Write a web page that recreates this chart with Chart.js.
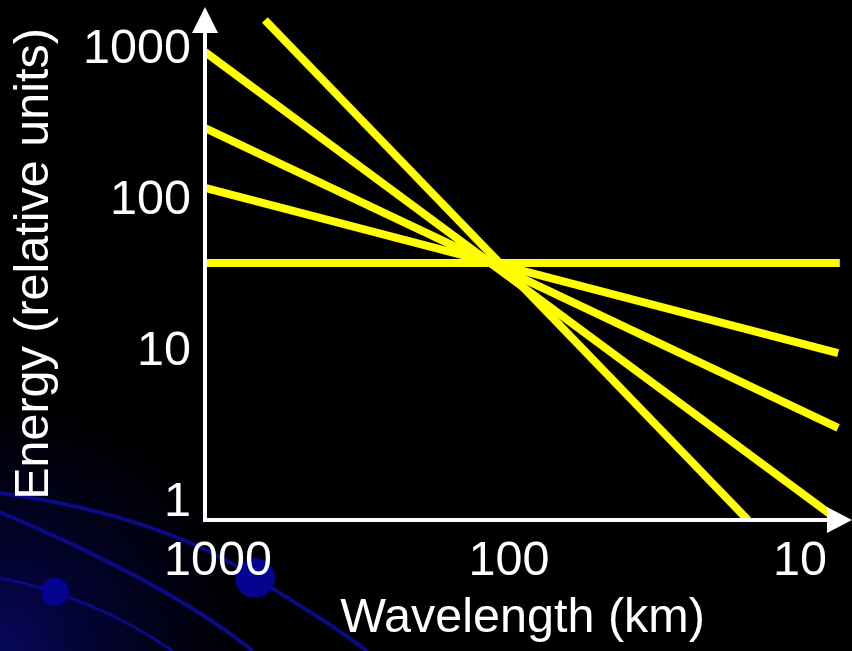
<!DOCTYPE html>
<html>
<head>
<meta charset="utf-8">
<script src="https://cdn.jsdelivr.net/npm/chart.js@4.4.1/dist/chart.umd.min.js"></script>
<style>
  html, body { margin: 0; padding: 0; background: #000; }
  canvas { display: block; }
</style>
</head>
<body>
<canvas id="energyChart" width="852" height="651"></canvas>
<script>
// axis ticks and ranges (wavelength axis runs backwards, 1000 km on the left)
const xTicks = [1000, 100, 10];
const yTicks = [1, 10, 100, 1000];
const xRange = [7.29, 1108];
const yRange = [0.772, 1897];

// each straight line: start and end points
const startKm = [690, 1108, 1108, 1108, 1108];
const endKm = [15.1, 7.4, 7.4, 7.4, 7.3];
const startEnergy = [1581, 970, 304, 122, 38.8];
const endEnergy = [0.772, 0.772, 3.14, 9.85, 38.8];

const FONT = "'Liberation Sans', Arial, sans-serif";
const FONT_SIZE = 48.5;

// dark slide background with the blue swirl in the corner
const slideBackground = {
  id: "slideBackground",
  beforeDraw(chart) {
    const c = chart.ctx;
    c.save();
    c.fillStyle = "#000";
    c.fillRect(0, 0, chart.width, chart.height);

    const g = c.createRadialGradient(0, 651, 10, 0, 651, 260);
    g.addColorStop(0, "rgba(10,10,120,0.75)");
    g.addColorStop(1, "rgba(0,0,60,0)");
    c.fillStyle = g;
    c.fillRect(0, 380, 300, 271);

    c.strokeStyle = "#0a0a84";
    c.lineWidth = 4;
    c.beginPath();
    c.moveTo(0, 493);
    c.bezierCurveTo(110, 508, 200, 540, 255, 578);
    c.bezierCurveTo(300, 605, 340, 630, 367, 651);
    c.stroke();

    c.beginPath();
    c.moveTo(0, 512);
    c.bezierCurveTo(90, 550, 190, 600, 253, 651);
    c.stroke();

    c.lineWidth = 3;
    c.beginPath();
    c.moveTo(0, 578);
    c.bezierCurveTo(60, 590, 120, 615, 173, 651);
    c.stroke();

    c.fillStyle = "#03038f";
    c.beginPath();
    c.arc(255, 578, 20, 0, Math.PI * 2);
    c.fill();
    c.beginPath();
    c.arc(55, 592, 14, 0, Math.PI * 2);
    c.fill();
    c.restore();
  },
};

// white axes with arrow heads
const arrowAxes = {
  id: "arrowAxes",
  afterDatasetsDraw(chart) {
    const { left, bottom } = chart.chartArea;
    const c = chart.ctx;
    c.save();
    c.strokeStyle = "#fff";
    c.fillStyle = "#fff";
    c.lineWidth = 4;
    c.beginPath();
    c.moveTo(left, 30);
    c.lineTo(left, bottom + 2);
    c.moveTo(left - 2, bottom);
    c.lineTo(830, bottom);
    c.stroke();

    c.beginPath();
    c.moveTo(left, 7);
    c.lineTo(left - 13, 33);
    c.lineTo(left + 13, 33);
    c.closePath();
    c.fill();

    c.beginPath();
    c.moveTo(852, bottom);
    c.lineTo(827, bottom - 13);
    c.lineTo(827, bottom + 13);
    c.closePath();
    c.fill();
    c.restore();
  },
};

const datasets = startKm.map((km, i) => ({
  data: [
    { x: km, y: startEnergy[i] },
    { x: endKm[i], y: endEnergy[i] },
  ],
  borderColor: "#ffff00",
  borderWidth: 8,
  borderCapStyle: "butt",
  pointRadius: 0,
  tension: 0,
}));

new Chart(document.getElementById("energyChart"), {
  type: "line",
  data: { datasets },
  options: {
    responsive: false,
    animation: false,
    layout: { padding: { top: 8, right: 12, left: 0, bottom: 0 } },
    plugins: { legend: { display: false }, tooltip: { enabled: false } },
    scales: {
      x: {
        type: "logarithmic",
        reverse: true,
        min: xRange[0],
        max: xRange[1],
        afterBuildTicks: (s) => { s.ticks = xTicks.map((v) => ({ value: v })); },
        afterFit: (s) => {
          s.height = 131;
          s.paddingLeft = 0;
          s.paddingRight = 0;
        },
        grid: { display: false, drawTicks: false },
        border: { display: false },
        ticks: {
          color: "#fff",
          font: { family: FONT, size: FONT_SIZE },
          padding: 13,
          maxRotation: 0,
          autoSkip: false,
          callback: (v) => String(v),
        },
        title: {
          display: true,
          text: "Wavelength (km)",
          color: "#fff",
          font: { family: FONT, size: FONT_SIZE },
          padding: { top: 0, bottom: 3 },
        },
      },
      y: {
        type: "logarithmic",
        min: yRange[0],
        max: yRange[1],
        afterBuildTicks: (s) => { s.ticks = yTicks.map((v) => ({ value: v })); },
        afterFit: (s) => {
          s.width = 205;
          s.paddingTop = 0;
          s.paddingBottom = 0;
        },
        grid: { display: false, drawTicks: false },
        border: { display: false },
        ticks: {
          color: "#fff",
          font: { family: FONT, size: FONT_SIZE },
          padding: 14,
          autoSkip: false,
          callback: (v) => String(v),
        },
        title: {
          display: true,
          text: "Energy (relative units)",
          color: "#fff",
          font: { family: FONT, size: FONT_SIZE },
          padding: { top: 6, bottom: 0 },
        },
      },
    },
  },
  plugins: [slideBackground, arrowAxes],
});
</script>
</body>
</html>
